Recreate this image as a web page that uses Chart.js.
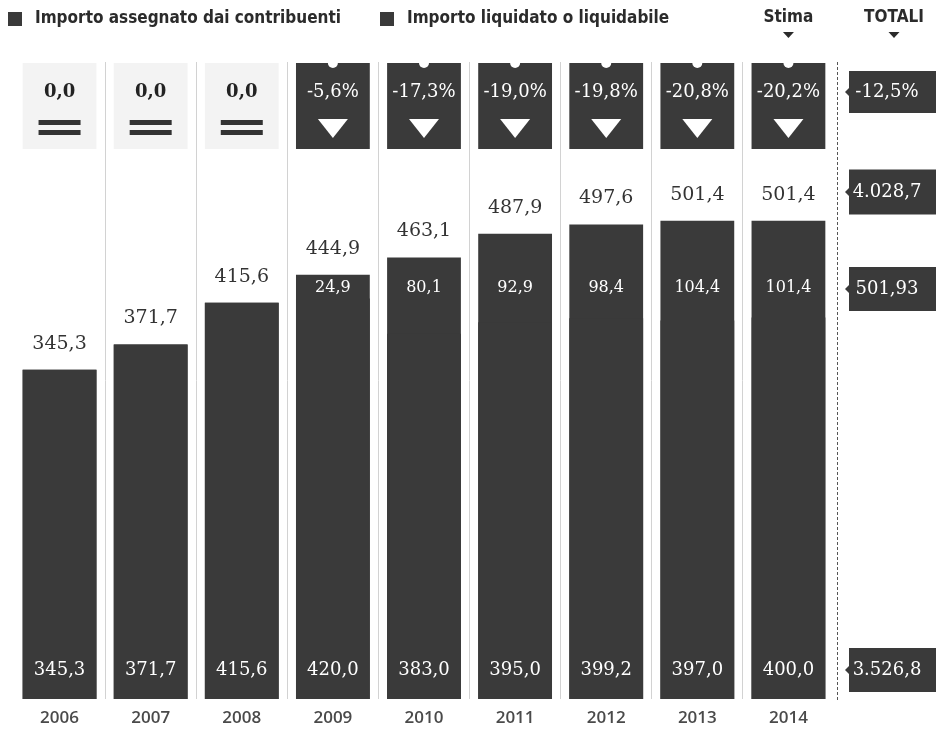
<!DOCTYPE html>
<html>
<head>
<meta charset="utf-8">
<script src="https://cdn.jsdelivr.net/npm/chart.js@4/dist/chart.umd.min.js"></script>
<style>
  html, body { margin: 0; padding: 0; background: #ffffff; }
  #wrap { width: 936px; height: 730px; position: relative; }
</style>
</head>
<body>
<div id="wrap"><canvas id="c" width="936" height="730"></canvas></div>
<script>
// Anni della serie
const categories = ['2006', '2007', '2008', '2009', '2010', '2011', '2012', '2013', '2014'];
// Importo assegnato dai contribuenti (milioni di euro)
const assigned = [345.3, 371.7, 415.6, 444.9, 463.1, 487.9, 497.6, 501.4, 501.4];
// Importo liquidato o liquidabile (milioni di euro)
const settled = [345.3, 371.7, 415.6, 420.0, 383.0, 395.0, 399.2, 397.0, 400.0];
// Colonna dei totali: variazione, assegnato, differenza, liquidato
const totalLabels = ['-12,5%', '4.028,7', '501,93', '3.526,8'];
const estimateLabel = 'Stima';
const totalsTitle = 'TOTALI';

const DARK = '#3a3a3a';
const SERIF = '"DejaVu Serif", "Liberation Serif", serif';
const SANS = '"DejaVu Sans Condensed", "Liberation Sans Narrow", "Open Sans", sans-serif';

const fmt = v => v.toFixed(1).replace('.', ',');

function downTriangle(ctx, cx, top, w, h, color) {
  ctx.beginPath();
  ctx.moveTo(cx - w / 2, top);
  ctx.lineTo(cx + w / 2, top);
  ctx.lineTo(cx, top + h);
  ctx.closePath();
  ctx.fillStyle = color;
  ctx.fill();
}

const annotations = {
  id: 'annotations',
  beforeDatasetsDraw(chart) {
    const { ctx, chartArea } = chart;
    // linea tratteggiata che separa la colonna dei totali
    ctx.save();
    ctx.strokeStyle = '#555555';
    ctx.lineWidth = 1;
    ctx.setLineDash([3, 2]);
    ctx.beginPath();
    ctx.moveTo(chartArea.right + 3.5, chartArea.top);
    ctx.lineTo(chartArea.right + 3.5, chartArea.bottom + 1);
    ctx.stroke();
    ctx.restore();
  },
  afterDatasetsDraw(chart) {
    const { ctx, chartArea } = chart;
    const yScale = chart.scales.y;
    const meta = chart.getDatasetMeta(0);
    const boxTop = chartArea.top + 1;
    const boxH = 86;
    const pctRow = chartArea.top + 30;
    const diffRow = chartArea.top + 226;
    const baseRow = chartArea.bottom - 29;

    ctx.save();
    ctx.textAlign = 'center';
    ctx.textBaseline = 'middle';

    meta.data.forEach((bar, i) => {
      const cx = bar.x;
      const w = bar.width;
      const left = cx - w / 2;
      const diff = assigned[i] - settled[i];
      const pct = (settled[i] / assigned[i] - 1) * 100;

      if (Math.abs(diff) < 0.05) {
        // nessuna differenza: riquadro chiaro con segno di uguale
        ctx.fillStyle = '#f3f3f3';
        ctx.fillRect(left, boxTop, w, boxH);
        ctx.fillStyle = '#222222';
        ctx.font = 'bold 18px ' + SERIF;
        ctx.fillText('0,0', cx, pctRow);
        ctx.fillStyle = '#333333';
        ctx.fillRect(cx - 21, boxTop + 57, 42, 5);
        ctx.fillRect(cx - 21, boxTop + 67, 42, 5);
      } else {
        // riquadro scuro con la variazione percentuale
        ctx.fillStyle = DARK;
        ctx.fillRect(left, boxTop, w, boxH);
        ctx.fillStyle = '#ffffff';
        ctx.beginPath();
        ctx.arc(cx, boxTop, 5, 0, Math.PI);
        ctx.fill();
        ctx.font = '18px ' + SERIF;
        ctx.fillText(fmt(pct) + '%', cx, pctRow);
        downTriangle(ctx, cx, boxTop + 56, 30, 19, '#ffffff');
      }

      // importo assegnato sopra la barra
      ctx.fillStyle = '#333333';
      ctx.font = '19px ' + SERIF;
      ctx.fillText(fmt(assigned[i]), cx, yScale.getPixelForValue(assigned[i]) - 26);

      // differenza fra assegnato e liquidato
      if (diff > 0.05) {
        ctx.fillStyle = '#ffffff';
        ctx.font = '16px ' + SERIF;
        ctx.fillText(fmt(diff), cx, diffRow);
      }

      // importo liquidato alla base
      ctx.fillStyle = '#ffffff';
      ctx.font = '18px ' + SERIF;
      ctx.fillText(fmt(settled[i]), cx, baseRow);
    });

    // colonna dei totali
    const tLeft = chartArea.right + 15;
    const rows = [
      { y: pctRow, h: 42 },
      { y: chartArea.top + 130, h: 45 },
      { y: diffRow + 1, h: 44 },
      { y: baseRow, h: 44 }
    ];
    rows.forEach((r, k) => {
      ctx.fillStyle = DARK;
      ctx.fillRect(tLeft, r.y - r.h / 2, chart.width - tLeft, r.h);
      ctx.beginPath();
      ctx.moveTo(tLeft, r.y - 4);
      ctx.lineTo(tLeft - 4, r.y);
      ctx.lineTo(tLeft, r.y + 4);
      ctx.closePath();
      ctx.fill();
      ctx.fillStyle = '#ffffff';
      ctx.font = '18px ' + SERIF;
      ctx.fillText(totalLabels[k], tLeft + 38, r.y);
    });
    ctx.restore();
  },
  afterDraw(chart) {
    const { ctx } = chart;
    const meta = chart.getDatasetMeta(0);
    ctx.save();
    ctx.textBaseline = 'middle';
    ctx.font = 'bold 17px ' + SANS;
    // legenda
    const items = [
      { x: 8, label: chart.data.datasets[0].label, color: chart.data.datasets[0].backgroundColor },
      { x: 380, label: chart.data.datasets[1].label, color: chart.data.datasets[1].backgroundColor }
    ];
    items.forEach(it => {
      ctx.fillStyle = it.color;
      ctx.fillRect(it.x, 12, 14, 14);
      ctx.fillStyle = '#2b2b2b';
      ctx.textAlign = 'left';
      ctx.fillText(it.label, it.x + 27, 19);
    });
    // intestazioni "Stima" e "TOTALI" con freccia
    ctx.textAlign = 'center';
    const stimaX = meta.data[meta.data.length - 1].x;
    const totX = chart.chartArea.right + 60;
    ctx.fillText(estimateLabel, stimaX, 18);
    ctx.fillText(totalsTitle, totX, 18);
    downTriangle(ctx, stimaX, 32, 11, 6, '#2b2b2b');
    downTriangle(ctx, totX, 32, 11, 6, '#2b2b2b');
    ctx.restore();
  }
};

new Chart(document.getElementById('c'), {
  type: 'bar',
  data: {
    labels: categories,
    datasets: [
      {
        label: 'Importo assegnato dai contribuenti',
        data: assigned,
        backgroundColor: DARK,
        grouped: false,
        order: 2
      },
      {
        label: 'Importo liquidato o liquidabile',
        data: settled,
        backgroundColor: DARK,
        grouped: false,
        order: 1
      }
    ]
  },
  options: {
    responsive: false,
    animation: false,
    layout: { padding: { left: 14, right: 102, top: 62, bottom: -8 } },
    datasets: { bar: { categoryPercentage: 1, barPercentage: 0.81 } },
    plugins: { legend: { display: false }, tooltip: { enabled: false } },
    scales: {
      x: {
        offset: true,
        border: { display: false },
        grid: {
          offset: true,
          drawTicks: false,
          lineWidth: 1,
          color: c => (c.index === undefined || c.index === 0) ? 'rgba(0,0,0,0)' : '#d2d2d2'
        },
        ticks: {
          padding: 11,
          color: '#4a4a4a',
          font: { family: '"Open Sans", sans-serif', size: 17, weight: '600', lineHeight: 1 }
        }
      },
      y: {
        display: false,
        min: 0,
        max: 668
      }
    }
  },
  plugins: [annotations]
});
</script>
</body>
</html>
